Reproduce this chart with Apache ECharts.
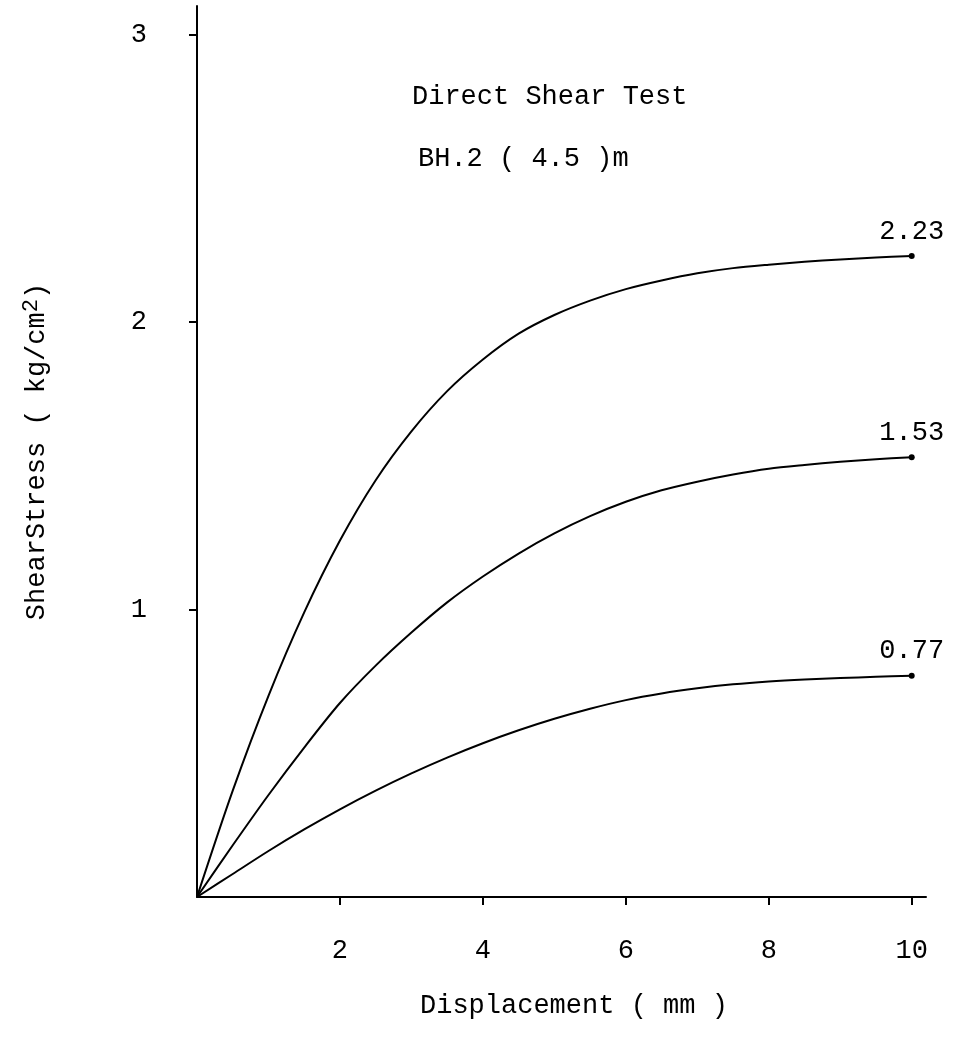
<!DOCTYPE html>
<html>
<head>
<meta charset="utf-8">
<script src="https://cdn.jsdelivr.net/npm/echarts@6/dist/echarts.min.js"></script>
<style>
html,body{margin:0;padding:0;background:#fff;}
#chart{width:953px;height:1057px;}
</style>
</head>
<body>
<div id="chart"></div>
<script>
// Data (displacement mm, shear stress kg/cm2)
const displacement = [0,0.5,1,1.5,2,2.5,3,3.5,4,4.5,5,5.5,6,6.5,7,7.5,8,8.5,9,9.5,10];
const stressHigh = [0,0.37,0.70,0.99,1.24,1.45,1.62,1.76,1.87,1.96,2.025,2.075,2.115,2.145,2.17,2.188,2.20,2.21,2.218,2.225,2.23];
const stressMid  = [0,0.18,0.355,0.52,0.675,0.805,0.92,1.025,1.115,1.195,1.265,1.325,1.375,1.415,1.445,1.47,1.49,1.503,1.514,1.523,1.53];
const stressLow  = [0,0.08,0.16,0.235,0.305,0.37,0.43,0.485,0.535,0.58,0.62,0.655,0.685,0.708,0.726,0.74,0.75,0.757,0.762,0.766,0.77];
const xTicks = [2,4,6,8,10];
const yTicks = [1,2,3];
const titleLines = ['Direct Shear Test','BH.2 ( 4.5 )m'];
const xName = 'Displacement ( mm )';

const FONT = 'Liberation Mono';
const INK = '#000';
const chart = echarts.init(document.getElementById('chart'), null, {renderer:'canvas'});

const curves = [stressHigh, stressMid, stressLow].map(s => displacement.map((x,i) => [x, s[i]]));
const lineSeries = curves.map(c => ({
  type:'line', data:c, smooth:0.3, showSymbol:false, symbol:'none',
  lineStyle:{color:INK, width:2}, silent:true, z:3
}));
const endSeries = {
  type:'scatter', symbol:'circle', symbolSize:6,
  itemStyle:{color:INK, opacity:1},
  data: curves.map(c => c[c.length-1]),
  label:{show:true, position:'top', distance:8, color:INK, opacity:1, fontFamily:FONT, fontSize:27,
    formatter: p => p.value[1].toFixed(2)},
  emphasis:{disabled:true},
  z:4
};

chart.setOption({
  animation:false,
  backgroundColor:'#fff',
  grid:{left:197, right:27, top:6, bottom:160, containLabel:false},
  xAxis:{
    type:'value', min:0, max:10.2,
    axisLine:{show:true, onZero:false, lineStyle:{color:INK, width:2}},
    axisTick:{show:true, inside:false, length:8, lineStyle:{color:INK, width:2}, customValues:xTicks},
    axisLabel:{show:true, margin:40, color:INK, fontFamily:FONT, fontSize:27, customValues:xTicks},
    splitLine:{show:false}
  },
  yAxis:{
    type:'value', min:0, max:3.1,
    axisLine:{show:true, onZero:false, lineStyle:{color:INK, width:2}},
    axisTick:{show:true, inside:false, length:8, lineStyle:{color:INK, width:2}, customValues:yTicks},
    axisLabel:{show:true, margin:50, color:INK, fontFamily:FONT, fontSize:27, customValues:yTicks},
    splitLine:{show:false},
    name:'{a|ShearStress ( kg/cm}{s|2}{a|)}',
    nameLocation:'middle', nameRotate:90, nameGap:143,
    nameTextStyle:{
      rich:{
        a:{fontFamily:FONT, fontSize:27, color:INK, lineHeight:34},
        s:{fontFamily:FONT, fontSize:22, color:INK, lineHeight:34, verticalAlign:'top', padding:[0,0,16,0]}
      }
    }
  },
  graphic:[
    {type:'text', left:412, top:83, style:{text:titleLines[0], fill:INK, font:'27px "Liberation Mono"'}},
    {type:'text', left:418, top:145, style:{text:titleLines[1], fill:INK, font:'27px "Liberation Mono"'}},
    {type:'text', left:420, top:992, style:{text:xName, fill:INK, font:'27px "Liberation Mono"'}}
  ],
  series:[...lineSeries, endSeries]
});
</script>
</body>
</html>
